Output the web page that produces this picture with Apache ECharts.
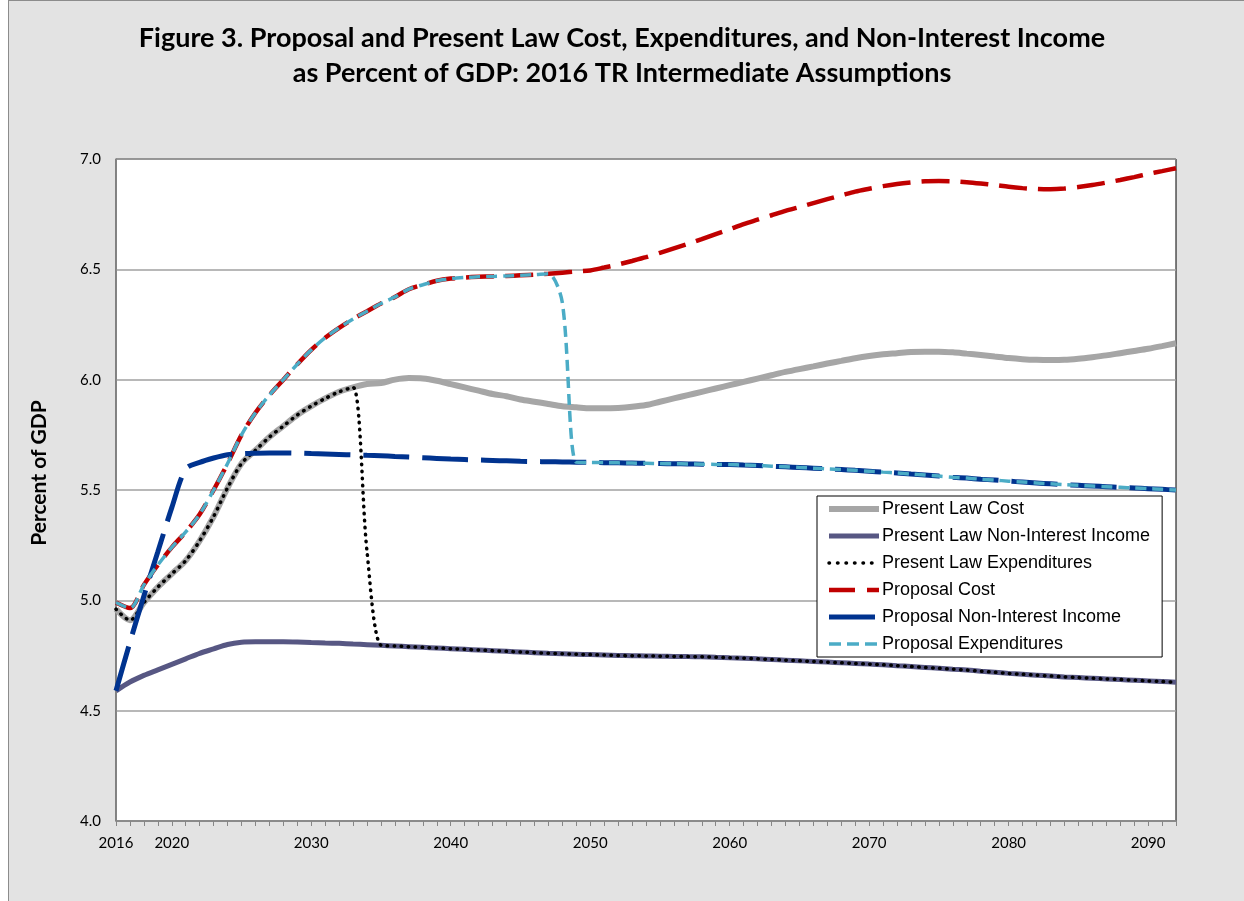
<!DOCTYPE html>
<html>
<head>
<meta charset="utf-8">
<title>Figure 3</title>
<script src="https://cdn.jsdelivr.net/npm/echarts@6.0.0/dist/echarts.min.js"></script>
<style>
  html, body { margin: 0; padding: 0; background: #fff; }
  #frame { position: absolute; left: 8px; top: 0; width: 1260px; height: 920px;
           background: #e3e3e3; border: 1px solid #8c8c8c; box-sizing: border-box; }
  #chart { position: absolute; left: 0; top: 0; width: 1244px; height: 901px; }
</style>
</head>
<body>
<div id="frame"></div>
<div id="chart"></div>
<script>
// years on the x axis
var years = [
  2016, 2017, 2018, 2019, 2020, 2021, 2022, 2023, 2024, 2025,
  2026, 2027, 2028, 2029, 2030, 2031, 2032, 2033, 2034, 2035,
  2036, 2037, 2038, 2039, 2040, 2041, 2042, 2043, 2044, 2045,
  2046, 2047, 2048, 2049, 2050, 2051, 2052, 2053, 2054, 2055,
  2056, 2057, 2058, 2059, 2060, 2061, 2062, 2063, 2064, 2065,
  2066, 2067, 2068, 2069, 2070, 2071, 2072, 2073, 2074, 2075,
  2076, 2077, 2078, 2079, 2080, 2081, 2082, 2083, 2084, 2085,
  2086, 2087, 2088, 2089, 2090, 2091, 2092
];
var yearLabels = [2016, 2020, 2030, 2040, 2050, 2060, 2070, 2080, 2090];

var presentCost = [
  4.96, 4.91, 4.99, 5.06, 5.12, 5.18, 5.27, 5.38, 5.51, 5.62,
  5.68, 5.74, 5.79, 5.84, 5.88, 5.915, 5.945, 5.965, 5.98, 5.985,
  6.0, 6.007, 6.005, 5.995, 5.98, 5.965, 5.95, 5.935, 5.925, 5.91,
  5.90, 5.89, 5.88, 5.875, 5.87, 5.87, 5.872, 5.877, 5.885, 5.90,
  5.915, 5.93, 5.945, 5.96, 5.975, 5.99, 6.005, 6.02, 6.035, 6.048,
  6.06, 6.073, 6.085, 6.097, 6.107, 6.115, 6.12, 6.125, 6.127, 6.127,
  6.124, 6.118, 6.112, 6.105, 6.098, 6.093, 6.09, 6.089, 6.09, 6.095,
  6.102, 6.11, 6.12, 6.13, 6.14, 6.152, 6.165
];
var presentIncome = [
  4.59, 4.63, 4.66, 4.685, 4.71, 4.735, 4.76, 4.78, 4.80, 4.81,
  4.812, 4.812, 4.812, 4.811, 4.809, 4.807, 4.805, 4.802, 4.799, 4.796,
  4.793, 4.79, 4.787, 4.784, 4.781, 4.778, 4.775, 4.772, 4.769, 4.766,
  4.763, 4.76, 4.758, 4.756, 4.754, 4.752, 4.75, 4.749, 4.748, 4.747,
  4.746, 4.745, 4.744, 4.742, 4.74, 4.738, 4.735, 4.732, 4.729, 4.726,
  4.723, 4.72, 4.717, 4.714, 4.711, 4.708, 4.704, 4.70, 4.696, 4.692,
  4.688, 4.684, 4.679, 4.674, 4.669, 4.665, 4.661, 4.657, 4.653, 4.65,
  4.647, 4.644, 4.641, 4.638, 4.635, 4.632, 4.629
];
var presentExp = [
  4.96, 4.91, 4.99, 5.06, 5.12, 5.18, 5.27, 5.38, 5.51, 5.62,
  5.68, 5.74, 5.79, 5.84, 5.88, 5.915, 5.945, 5.965, 5.22, 4.796,
  4.793, 4.79, 4.787, 4.784, 4.781, 4.778, 4.775, 4.772, 4.769, 4.766,
  4.763, 4.76, 4.758, 4.756, 4.754, 4.752, 4.75, 4.749, 4.748, 4.747,
  4.746, 4.745, 4.744, 4.742, 4.74, 4.738, 4.735, 4.732, 4.729, 4.726,
  4.723, 4.72, 4.717, 4.714, 4.711, 4.708, 4.704, 4.70, 4.696, 4.692,
  4.688, 4.684, 4.679, 4.674, 4.669, 4.665, 4.661, 4.657, 4.653, 4.65,
  4.647, 4.644, 4.641, 4.638, 4.635, 4.632, 4.629
];
var proposalCost = [
  4.99, 4.965, 5.07, 5.16, 5.24, 5.31, 5.39, 5.50, 5.62, 5.75,
  5.85, 5.93, 6.0, 6.07, 6.135, 6.19, 6.235, 6.275, 6.31, 6.345,
  6.375, 6.41, 6.43, 6.448, 6.458, 6.463, 6.466, 6.468, 6.47, 6.473,
  6.476, 6.48, 6.485, 6.49, 6.495, 6.508, 6.522, 6.538, 6.555, 6.575,
  6.595, 6.615, 6.637, 6.66, 6.682, 6.705, 6.725, 6.745, 6.765, 6.782,
  6.80, 6.818, 6.835, 6.852, 6.865, 6.877, 6.887, 6.894, 6.899, 6.90,
  6.899, 6.895, 6.889, 6.882, 6.874, 6.868, 6.864, 6.863, 6.866, 6.873,
  6.882, 6.893, 6.905, 6.918, 6.932, 6.945, 6.958
];
var proposalIncome = [
  4.59, 4.81, 5.02, 5.22, 5.42, 5.595, 5.625, 5.645, 5.66, 5.665,
  5.667, 5.668, 5.668, 5.667, 5.665, 5.663, 5.661, 5.659, 5.657, 5.655,
  5.652, 5.649, 5.646, 5.643, 5.64, 5.638, 5.636, 5.634, 5.632, 5.63,
  5.629, 5.628, 5.627, 5.626, 5.625, 5.624, 5.623, 5.622, 5.621, 5.62,
  5.619, 5.618, 5.617, 5.616, 5.615, 5.613, 5.611, 5.608, 5.605, 5.602,
  5.599, 5.596, 5.593, 5.589, 5.585, 5.581, 5.577, 5.572, 5.568, 5.563,
  5.558, 5.554, 5.549, 5.545, 5.54, 5.536, 5.532, 5.528, 5.524, 5.521,
  5.518, 5.515, 5.512, 5.509, 5.506, 5.503, 5.50
];
var proposalExp = [
  4.99, 4.965, 5.07, 5.16, 5.24, 5.31, 5.39, 5.50, 5.62, 5.75,
  5.85, 5.93, 6.0, 6.07, 6.135, 6.19, 6.235, 6.275, 6.31, 6.345,
  6.375, 6.41, 6.43, 6.448, 6.458, 6.463, 6.466, 6.468, 6.47, 6.473,
  6.476, 6.48, 6.35, 5.626, 5.625, 5.624, 5.623, 5.622, 5.621, 5.62,
  5.619, 5.618, 5.617, 5.616, 5.615, 5.613, 5.611, 5.608, 5.605, 5.602,
  5.599, 5.596, 5.593, 5.589, 5.585, 5.581, 5.577, 5.572, 5.568, 5.563,
  5.558, 5.554, 5.549, 5.545, 5.54, 5.536, 5.532, 5.528, 5.524, 5.521,
  5.518, 5.515, 5.512, 5.509, 5.506, 5.503, 5.50
];

function pairs(vals) {
  var out = [];
  for (var i = 0; i < years.length; i++) out.push([years[i], vals[i]]);
  return out;
}

function line(name, vals, color, width, type, cap) {
  return {
    name: name,
    type: 'line',
    data: pairs(vals),
    symbol: 'none',
    smooth: 0.3,
    animation: false,
    lineStyle: { color: color, width: width, type: type, cap: cap || 'butt' },
    itemStyle: { color: color }
  };
}

var myChart = echarts.init(document.getElementById('chart'));

var option = {
  backgroundColor: 'transparent',
  title: {
    text: 'Figure 3. Proposal and Present Law Cost, Expenditures, and Non-Interest Income\nas Percent of GDP: 2016 TR Intermediate Assumptions',
    left: 'center',
    top: 16,
    textStyle: {
      fontFamily: 'Lato',
      fontWeight: 'bold',
      fontSize: 27,
      lineHeight: 35,
      color: '#000'
    }
  },
  legend: {
    orient: 'vertical',
    left: 817,
    top: 496,
    padding: [4, 12, 4, 9],
    itemWidth: 50,
    itemHeight: 18,
    itemGap: 9,
    backgroundColor: '#fff',
    borderColor: '#000',
    borderWidth: 1,
    itemStyle: { color: 'rgba(0,0,0,0)', borderWidth: 0, opacity: 0 },
    textStyle: { fontFamily: 'Liberation Sans', fontSize: 18, color: '#000', padding: [0, 0, 0, -2] },
    data: [
      { name: 'Present Law Cost', lineStyle: { width: 6 } },
      { name: 'Present Law Non-Interest Income', lineStyle: { width: 5 } },
      { name: 'Present Law Expenditures', lineStyle: { width: 3.5, type: [0.5, 8], cap: 'round' } },
      { name: 'Proposal Cost', lineStyle: { width: 4.5, type: [26, 12] } },
      { name: 'Proposal Non-Interest Income', lineStyle: { width: 5 } },
      { name: 'Proposal Expenditures', lineStyle: { width: 3.5, type: [12, 6] } }
    ]
  },
  grid: {
    left: 116,
    right: 68,
    top: 159,
    bottom: 80,
    show: true,
    backgroundColor: '#fff',
    borderColor: '#000',
    borderWidth: 1
  },
  xAxis: {
    type: 'value',
    min: 2016,
    max: 2092,
    interval: 1,
    axisLine: { lineStyle: { color: '#868686', width: 1.5 } },
    axisTick: { show: true, length: 5, lineStyle: { color: '#868686' } },
    splitLine: { show: false },
    axisLabel: {
      margin: 15,
      fontFamily: 'Lato',
      fontSize: 15,
      color: '#000',
      formatter: function (v) {
        return yearLabels.indexOf(v) >= 0 ? String(v) : '';
      }
    }
  },
  yAxis: {
    type: 'value',
    min: 4,
    max: 7,
    interval: 0.5,
    name: 'Percent of GDP',
    nameLocation: 'middle',
    nameRotate: 90,
    nameGap: 66,
    nameTextStyle: {
      fontFamily: 'Lato', fontWeight: 'bold', fontSize: 21, color: '#000',
      padding: [0, 0, 0, 34]
    },
    axisLine: { show: true, lineStyle: { color: '#868686', width: 1.5 } },
    axisTick: { show: false },
    splitLine: { lineStyle: { color: '#a0a0a0', width: 1.5 } },
    axisLabel: {
      margin: 15,
      fontFamily: 'Lato',
      fontSize: 15,
      color: '#000',
      formatter: function (v) { return v.toFixed(1); }
    }
  },
  series: [
    line('Present Law Cost', presentCost, '#a6a6a6', 6, 'solid'),
    line('Present Law Non-Interest Income', presentIncome, '#575783', 5, 'solid'),
    line('Present Law Expenditures', presentExp, '#000000', 3.5, [0.5, 6.5], 'round'),
    line('Proposal Cost', proposalCost, '#c00000', 4.5, [28, 11]),
    line('Proposal Non-Interest Income', proposalIncome, '#00338f', 5, [46, 13]),
    line('Proposal Expenditures', proposalExp, '#4bacc6', 3.5, [11, 6])
  ]
};
myChart.setOption(option);
</script>
</body>
</html>
